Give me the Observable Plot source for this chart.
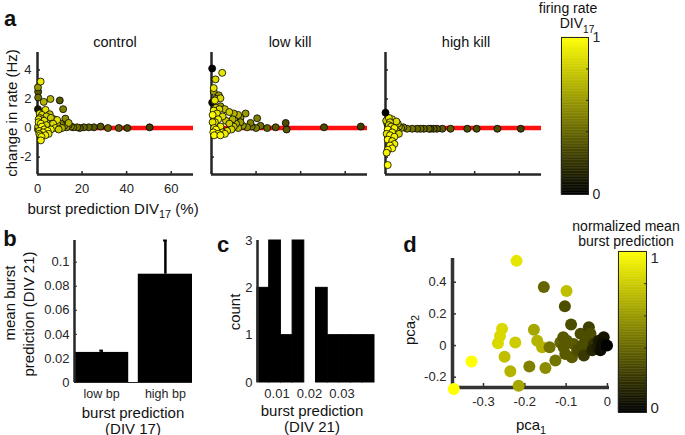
<!DOCTYPE html>
<html><head><meta charset="utf-8">
<script src="https://cdn.jsdelivr.net/npm/d3@7"></script>
<script src="https://cdn.jsdelivr.net/npm/@observablehq/plot@0.6"></script>
<style>
body{margin:0;background:#fff;}
#root{position:relative;width:685px;height:435px;overflow:hidden;font-family:"Liberation Sans",Arial,sans-serif;color:#111;background:#fff;}
.lbl{position:absolute;white-space:nowrap;line-height:1;}
.lbl sub{font-size:0.72em;vertical-align:-0.45em;line-height:0;}
</style></head><body><div id="root"></div>
<script>
// ---------- data ----------
// panel a: [burst prediction DIV17 (%), change in rate (Hz), normalized firing rate]
const controlPoints = [
 [50.3,0.05,0.25],[40.3,0.0,0.3],[36.5,0.0,0.35],[31.6,0.0,0.4],[28.3,0.1,0.35],[25.3,0.05,0.35],[23,0.05,0.4],[20.8,0.05,0.4],[19,0.0,0.4],[17.8,0.05,0.45],
 [10,1.9,0.35],[11.5,1.3,0.5],[12.5,0.65,0.55],[0.3,2.5,0.35],[0.2,2.8,0.6],[0.3,2.1,0.45],[0.2,1.3,0.1],[5.8,2.0,0.7],[2.8,1.8,0.7],
 [16,0.05,0.5],[15,0.1,0.55],[14,0.2,0.5],[13,0.05,0.6],[12,0.15,0.6],[10.5,0.3,0.5],[14,0.35,0.7],[7.5,0.6,0.6],[9,0.2,0.7],[11,0.0,0.7],[0.2,-0.1,0.6],[0.3,0.1,0.8],
 [1.4,3.2,0.92],[3.6,1.25,0.9],[1,1.0,0.95],[2,0.9,0.9],[5.5,0.95,0.75],[4,0.8,0.85],[8.8,0.55,0.9],[6,0.7,0.8],[1,0.7,0.95],[2,0.6,0.95],[0.5,0.6,0.9],[3,0.5,0.9],[0.5,0.4,0.95],[1.5,0.3,1],[6.5,0.3,0.9],[7,0.3,0.85],[4,0.2,0.85],[2,0.1,1],[8,0.0,0.9],[9.5,-0.1,0.8],[6,-0.1,0.95],[3,-0.1,1],[4.5,-0.2,1],[0.8,-0.2,0.9],[2.5,-0.3,1],[5,-0.4,0.9],[0.8,-0.4,0.95],[1.2,-0.5,1],[3.5,-0.5,0.95],[1.8,-0.6,0.95],[1.5,-0.85,0.95]
];
const lowKillPoints = [
 [67,0.1,0.25],[50.5,0.05,0.3],[33.7,-0.1,0.35],[33.3,0.35,0.3],[28.8,0.05,0.35],[25,0.0,0.4],[22,0.15,0.45],[20,0.0,0.5],[18,0.1,0.5],[20.5,0.67,0.5],[17.5,0.35,0.5],[16,0.05,0.55],[15.3,1.0,0.6],[14,0.15,0.6],[13,0.7,0.6],[13,0.4,0.6],[12,0.9,0.7],[12,0.0,0.7],
 [0.3,1.75,0.05],[1.0,2.5,0.6],[3.3,2.25,0.6],[4,1.5,0.6],[10,1.0,0.7],[11,0.3,0.7],[9.5,0.6,0.7],[10,0.1,0.75],[6,1.3,0.75],[8,1.1,0.8],[6.5,0.5,0.8],[8,0.3,0.8],[2,2.0,0.7],[2,1.4,0.8],
 [4.8,3.8,0.9],[1.8,3.35,0.85],[1.0,2.75,0.9],[4.0,2.05,0.85],[1.5,1.9,0.9],[3.5,1.3,0.85],[1,1.2,0.95],[2.5,1.0,0.9],[0.5,0.9,1],[5,0.8,0.85],[3,0.6,0.95],[1.5,0.4,1],[0.5,0.4,0.9],[4,0.1,0.95],[1.2,0.0,1],[9,-0.1,0.85],[7,-0.2,0.9],[2,-0.1,1],[0.8,-0.3,1],[5,-0.3,0.95],[3,-0.4,1],[6,-0.4,0.95],[1.2,-0.5,1],[4,-0.5,1],
 [0.3,4.1,0]
];
const highKillPoints = [
 [60.7,-0.05,0.25],[50.2,-0.05,0.3],[40.9,-0.05,0.3],[36.7,-0.05,0.3],[29.2,-0.05,0.35],[25.5,-0.05,0.35],[23.1,-0.05,0.35],[21.6,-0.05,0.4],[20.2,-0.05,0.35],[19.4,-0.05,0.4],[17.2,-0.05,0.4],[15.7,-0.05,0.45],[14.2,-0.05,0.4],[12,-0.05,0.45],[9.7,-0.05,0.5],[8,0.05,0.55],[7,0.0,0.6],
 [0.8,0.3,0.5],[6,0.1,0.7],[5.5,0.3,0.75],[5,-0.2,0.8],[0.3,0.5,0.8],[6,-0.4,0.85],
 [3.0,0.6,0.9],[4.9,0.45,0.85],[1.5,0.7,0.9],[2,0.4,0.85],[1.5,0.2,0.9],[2.5,0.1,0.9],[4,0.0,0.95],[1,-0.1,1],[3,-0.3,0.95],[0.5,-0.4,0.9],[2,-0.5,1],[4,-0.6,0.95],[1,-0.8,1],[3,-0.9,0.95],[4,-1.1,0.95],[2,-1.2,1],[3,-1.4,1],[1,-1.5,1],[0.5,-1.7,0.95],[1,-2.55,1],
 [0,1.06,0]
];
const fitLineX = [0, 70];
const panelAXTicks = [0, 20, 40, 60];
const panelAYTicks = [-2, 0, 2, 4];
const colorbarTicks = [0.2, 0.4, 0.6, 0.8];

// panel b
const bpCategories = ["low bp", "high bp"];
const bpMeans = [0.025, 0.09];
const bpErrUpper = [0.0265, 0.118];
const bpYTicks = [0, 0.02, 0.04, 0.06, 0.08, 0.1];

// panel c
const histEdges = [0.004, 0.0076, 0.0112, 0.0148, 0.0184, 0.022, 0.0256, 0.0292, 0.0328, 0.0364, 0.04];
const histCounts = [2, 3, 1, 3, 0, 2, 1, 1, 1, 1];
const histXTicks = [0.01, 0.02, 0.03];
const histYTicks = [0, 1, 2, 3];

// panel d: [pca1, pca2, normalized mean burst prediction]
const pcaPoints = [
 [-0.22,0.535,0.9],[-0.372,-0.275,1.0],[-0.329,-0.10,1.0],[-0.255,0.106,0.85],[-0.26,0.06,0.85],[-0.265,0.015,0.85],[-0.223,0.02,0.8],[-0.249,-0.07,0.75],[-0.235,-0.163,0.7],[-0.215,-0.254,0.65],[-0.178,0.10,0.65],[-0.17,0.03,0.7],[-0.158,-0.01,0.7],[-0.14,-0.01,0.45],[-0.189,-0.133,0.5],[-0.15,-0.142,0.55],[-0.126,-0.095,0.45],[-0.099,0.345,0.75],[-0.154,0.37,0.4],[-0.103,0.248,0.3],
 [-0.114,0.02,0.4],[-0.107,0.053,0.35],[-0.098,0.03,0.35],[-0.106,-0.01,0.35],[-0.102,-0.053,0.35],[-0.086,-0.074,0.35],[-0.088,0.133,0.3],[-0.082,0.01,0.35],[-0.065,0.074,0.3],[-0.073,-0.03,0.3],[-0.061,0.0,0.3],[-0.053,0.03,0.3],[-0.045,0.116,0.25],[-0.041,0.074,0.3],[-0.057,-0.063,0.22],[-0.033,0.01,0.2],[-0.037,-0.03,0.15],[-0.025,-0.01,0.12],[-0.021,0.03,0.1],[-0.009,0.053,0.08],[-0.017,-0.03,0.05],[-0.013,0.01,0.05],[-0.001,0.0,0.0]
];
const pcaXTicks = [-0.3, -0.2, -0.1, 0];
const pcaYTicks = [-0.2, 0, 0.2, 0.4];

// ---------- helpers ----------
const root = document.getElementById("root");
const FONT = '"Liberation Sans", Arial, sans-serif';
const AX = "#262626";
const baseStyle = {fontFamily: FONT, fontSize: "12px", color: AX, background: "transparent", overflow: "visible"};
const cmap = {type: "linear", domain: [0, 1], range: ["#000000", "#ffff00"], interpolate: "rgb"};
const plain = d => String(d);

function put(node, left, top) {
  node.style.position = "absolute";
  node.style.left = left + "px";
  node.style.top = top + "px";
  root.appendChild(node);
}
function txt(html, x, y, {size = 15, weight = "normal", rotate = 0} = {}) {
  const d = document.createElement("div");
  d.className = "lbl";
  d.innerHTML = html;
  d.style.left = x + "px";
  d.style.top = y + "px";
  d.style.fontSize = size + "px";
  d.style.fontWeight = weight;
  d.style.transform = `translate(-50%,-50%) rotate(${rotate}deg)`;
  root.appendChild(d);
}

// ---------- panel a ----------
function scatterA(points, showLabels) {
  return Plot.plot({
    width: 200, height: 160, marginLeft: 37, marginRight: 7, marginTop: 12, marginBottom: 26,
    x: {domain: [0, 70]}, y: {domain: [-3.2, 5.2]},
    color: cmap, style: baseStyle,
    marks: [
      Plot.ruleY([0], {x1: fitLineX[0], x2: fitLineX[1], stroke: "#ff1010", strokeWidth: 4.5}),
      Plot.axisX({ticks: panelAXTicks, tickSize: -3, fill: "none", stroke: AX, strokeWidth: 1.5, label: null}),
      Plot.axisY({ticks: panelAYTicks, tickSize: -3, fill: "none", stroke: AX, strokeWidth: 1.5, label: null}),
      showLabels ? Plot.axisX({ticks: panelAXTicks, tickSize: 0, tickPadding: 9, fontSize: 13, tickFormat: plain, fill: AX, label: null}) : null,
      showLabels ? Plot.axisY({ticks: panelAYTicks, tickSize: 0, tickPadding: 6, fontSize: 13, tickFormat: plain, fill: AX, label: null}) : null,
      Plot.ruleX([0], {stroke: AX, strokeWidth: 2.5}),
      Plot.ruleY([-3.2], {stroke: AX, strokeWidth: 2.5}),
      Plot.dot(points, {x: d => d[0], y: d => d[1], fill: d => d[2], r: 3.5, stroke: "#000", strokeWidth: 0.8})
    ]
  });
}
put(scatterA(controlPoints, true), 0, 40);
put(scatterA(lowKillPoints, false), 174, 40);
put(scatterA(highKillPoints, false), 348, 40);

function colorbar(w, h, mt, mb, ticksFont, labelShift) {
  const stops = d3.range(0, 1, 0.01);
  return Plot.plot({
    width: w + 40, height: h + mt + mb, marginLeft: 0, marginRight: 40, marginTop: mt, marginBottom: mb,
    x: {domain: [0, 1], axis: null}, y: {domain: [0, 1]},
    color: cmap, style: baseStyle,
    marks: [
      Plot.rect(stops, {x1: 0, x2: 1, y1: d => d, y2: d => d + 0.0101, fill: d => d + 0.005, stroke: d => d + 0.005, strokeWidth: 0.4}),
      Plot.frame({stroke: AX, strokeWidth: 1}),
      Plot.axisY({anchor: "right", ticks: colorbarTicks, tickSize: -3, fill: "none", stroke: AX, label: null}),
      Plot.axisY({anchor: "right", ticks: [1], tickSize: 0, tickPadding: 4, fontSize: ticksFont, tickFormat: plain, fill: AX, dy: labelShift[0], label: null}),
      Plot.axisY({anchor: "right", ticks: [0], tickSize: 0, tickPadding: 4, fontSize: ticksFont, tickFormat: plain, fill: AX, dy: labelShift[1], label: null})
    ]
  });
}
put(colorbar(27, 157, 6, 6, 14, [0, 0]), 561, 31);

txt("a", 10, 19, {size: 22, weight: "bold"});
txt("control", 115, 42, {size: 14.5});
txt("low kill", 290, 42, {size: 14.5});
txt("high kill", 466, 42, {size: 14.5});
txt("change in rate (Hz)", 11, 113, {size: 15, rotate: -90});
txt("burst prediction DIV<sub>17</sub> (%)", 113, 208, {size: 15});
txt("firing rate", 568, 8, {size: 14});
txt("DIV<sub>17</sub>", 577, 23, {size: 14});

// ---------- panel b ----------
const bBar = Plot.plot({
  width: 200, height: 205, marginLeft: 74, marginRight: 8, marginTop: 10, marginBottom: 53,
  x: {domain: [0.575, 2.425]}, y: {domain: [0, 0.118]}, style: baseStyle,
  marks: [
    Plot.ruleY([0], {stroke: AX, strokeWidth: 1}),
    Plot.rect(bpCategories, {x1: (d, i) => i + 1 - 0.425, x2: (d, i) => i + 1 + 0.425, y1: 0, y2: (d, i) => bpMeans[i], fill: "#000"}),
    Plot.ruleX(bpCategories, {x: (d, i) => i + 1, y1: (d, i) => bpMeans[i], y2: (d, i) => bpErrUpper[i], stroke: "#000", strokeWidth: 2.5}),
    Plot.ruleY(bpCategories, {y: (d, i) => bpErrUpper[i], x1: (d, i) => i + 1 - 0.03, x2: (d, i) => i + 1 + 0.03, stroke: "#000", strokeWidth: 2}),
    Plot.axisX({ticks: [1, 2], tickFormat: i => bpCategories[i - 1], tickSize: 0, tickPadding: 7, fontSize: 12.5, fill: AX, label: null}),
    Plot.axisY({ticks: bpYTicks, tickSize: 0, tickPadding: 5, fontSize: 13, tickFormat: plain, fill: AX, label: null}),
    Plot.axisY({ticks: bpYTicks, tickSize: -3, fill: "none", stroke: AX, label: null}),
    Plot.ruleX([0.575], {stroke: AX, strokeWidth: 2.5})
  ]
});
put(bBar, 0, 230);
txt("b", 10, 239, {size: 22, weight: "bold"});
txt("mean burst", 9, 303, {size: 15, rotate: -90});
txt("prediction (DIV 21)", 28, 314, {size: 15, rotate: -90});
txt("burst prediction", 133, 412, {size: 15});
txt("(DIV 17)", 133, 428, {size: 15});

// ---------- panel c ----------
const cHist = Plot.plot({
  width: 200, height: 205, marginLeft: 67, marginRight: 16, marginTop: 10, marginBottom: 53,
  x: {domain: [histEdges[0], histEdges[histEdges.length - 1]]}, y: {domain: [0, 3]}, style: baseStyle,
  marks: [
    Plot.rect(histCounts, {x1: (d, i) => histEdges[i], x2: (d, i) => histEdges[i + 1], y1: 0, y2: d => d, fill: "#000", stroke: "#000", strokeWidth: 1}),
    Plot.axisX({ticks: histXTicks, tickSize: 0, tickPadding: 6, fontSize: 13, tickFormat: plain, fill: AX, label: null}),
    Plot.axisY({ticks: histYTicks, tickSize: 0, tickPadding: 5, fontSize: 13, tickFormat: plain, fill: AX, label: null}),
    Plot.ruleX([histEdges[0]], {stroke: AX, strokeWidth: 2.5})
  ]
});
put(cHist, 190, 230);
txt("c", 223, 245, {size: 22, weight: "bold"});
txt("count", 234, 312, {size: 15, rotate: -90});
txt("burst prediction", 312, 410, {size: 15});
txt("(DIV 21)", 312, 426, {size: 15});

// ---------- panel d ----------
const dScatter = Plot.plot({
  width: 215, height: 205, marginLeft: 52, marginRight: 6, marginTop: 28, marginBottom: 48,
  x: {domain: [-0.375, 0.005]}, y: {domain: [-0.265, 0.55]},
  color: cmap, style: baseStyle,
  marks: [
    Plot.ruleX([-0.375], {stroke: "#333", strokeWidth: 3.5}),
    Plot.ruleY([-0.265], {stroke: "#333", strokeWidth: 3.5}),
    Plot.axisX({ticks: pcaXTicks, tickSize: -4, fill: "none", stroke: "#333", strokeWidth: 1.5, label: null}),
    Plot.axisY({ticks: pcaYTicks, tickSize: -4, fill: "none", stroke: "#333", strokeWidth: 1.5, label: null}),
    Plot.axisX({ticks: pcaXTicks, tickSize: 0, tickPadding: 9, fontSize: 13, tickFormat: plain, fill: AX, label: null}),
    Plot.axisY({ticks: pcaYTicks, tickSize: 0, tickPadding: 6, fontSize: 13, tickFormat: plain, fill: AX, label: null}),
    Plot.dot(pcaPoints, {x: d => d[0], y: d => d[1], fill: d => d[2], r: 6})
  ]
});
put(dScatter, 400, 230);
put(colorbar(28, 161, 6, 6, 15, [7, -4]), 618, 245);
txt("d", 410, 245, {size: 22, weight: "bold"});
txt("normalized mean", 626, 226, {size: 14});
txt("burst prediction", 626, 241, {size: 14});
txt("pca<sub>1</sub>", 531, 424, {size: 15});
txt("pca<sub>2</sub>", 409, 330, {size: 15, rotate: -90});
</script>
</body></html>
